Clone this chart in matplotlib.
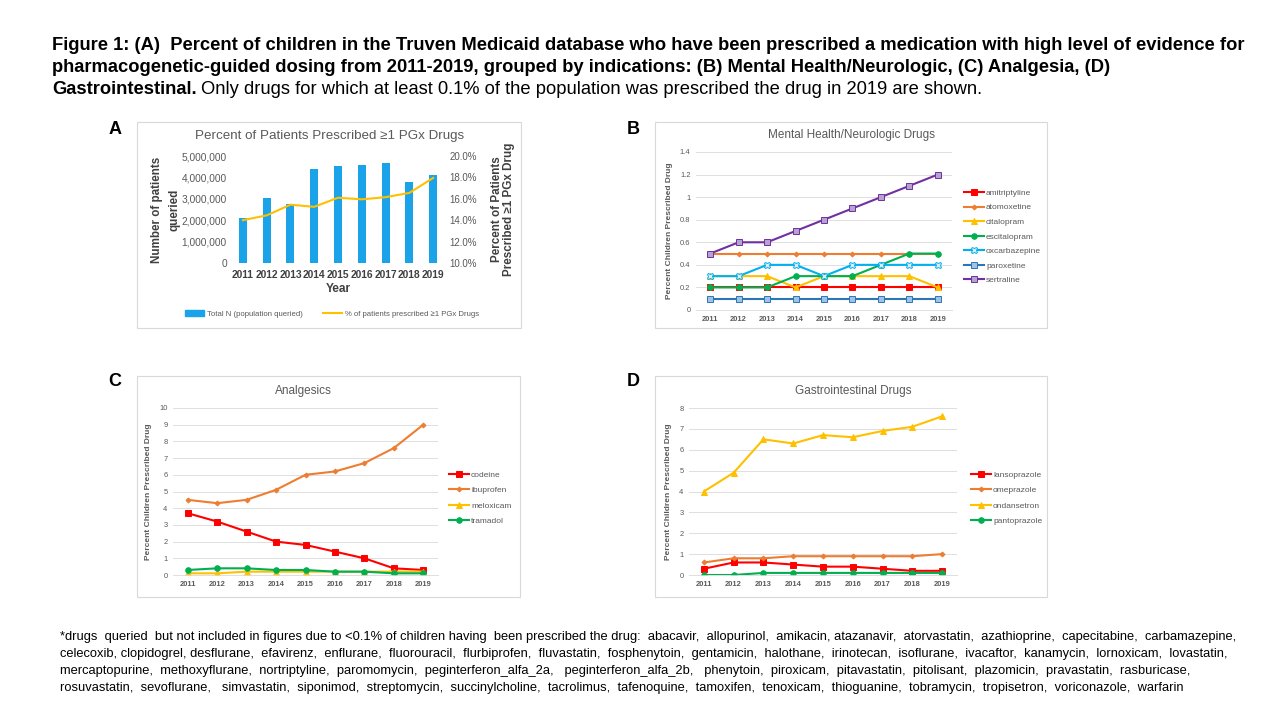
import matplotlib
matplotlib.use('Agg')
import matplotlib.pyplot as plt
from matplotlib.patches import Rectangle
from matplotlib.lines import Line2D
from matplotlib.ticker import FuncFormatter

plt.rcParams['font.family'] = ['Liberation Sans', 'DejaVu Sans']

W, H = 1280, 720
GRAY = '#595959'
GRID = '#D9D9D9'

years = ['2011', '2012', '2013', '2014', '2015', '2016', '2017', '2018', '2019']

# Panel A: population queried and percent with >=1 PGx drug
total_n = [2080000, 3050000, 2740000, 4410000, 4540000, 4590000, 4650000, 3780000, 4130000]
pct_pgx = [14.0, 14.45, 15.45, 15.25, 16.1, 15.95, 16.15, 16.55, 17.95]

# Panel B: mental health / neurologic drugs (% children)
amitriptyline = [0.2, 0.2, 0.2, 0.2, 0.2, 0.2, 0.2, 0.2, 0.2]
atomoxetine = [0.5, 0.5, 0.5, 0.5, 0.5, 0.5, 0.5, 0.5, 0.5]
citalopram = [0.3, 0.3, 0.3, 0.2, 0.3, 0.3, 0.3, 0.3, 0.2]
escitalopram = [0.2, 0.2, 0.2, 0.3, 0.3, 0.3, 0.4, 0.5, 0.5]
oxcarbazepine = [0.3, 0.3, 0.4, 0.4, 0.3, 0.4, 0.4, 0.4, 0.4]
paroxetine = [0.1, 0.1, 0.1, 0.1, 0.1, 0.1, 0.1, 0.1, 0.1]
sertraline = [0.5, 0.6, 0.6, 0.7, 0.8, 0.9, 1.0, 1.1, 1.2]

# Panel C: analgesics
codeine = [3.7, 3.2, 2.6, 2.0, 1.8, 1.4, 1.0, 0.4, 0.3]
ibuprofen = [4.5, 4.3, 4.5, 5.1, 6.0, 6.2, 6.7, 7.6, 9.0]
meloxicam = [0.1, 0.1, 0.2, 0.2, 0.2, 0.2, 0.2, 0.2, 0.2]
tramadol = [0.3, 0.4, 0.4, 0.3, 0.3, 0.2, 0.2, 0.1, 0.1]

# Panel D: gastrointestinal drugs
lansoprazole = [0.3, 0.6, 0.6, 0.5, 0.4, 0.4, 0.3, 0.2, 0.2]
omeprazole = [0.6, 0.8, 0.8, 0.9, 0.9, 0.9, 0.9, 0.9, 1.0]
ondansetron = [4.0, 4.9, 6.5, 6.3, 6.7, 6.6, 6.9, 7.1, 7.6]
pantoprazole = [0.0, 0.0, 0.1, 0.1, 0.1, 0.1, 0.1, 0.1, 0.1]

# marker styles (marker, line colour, face colour, size)
RED = ('s', '#FF0000', '#FF0000', 4)
ORANGE = ('D', '#ED7D31', '#ED7D31', 2.5)
YELLOW = ('^', '#FFC000', '#FFC000', 4)
GREEN = ('o', '#00B050', '#00B050', 4)
CYAN = ('X', '#00B0F0', '#DEEBF7', 4.5)
BLUE = ('s', '#2E75B6', '#9DC3E6', 4.5)
PURPLE = ('s', '#7030A0', '#B4A2D0', 4.5)

fig = plt.figure(figsize=(W / 100, H / 100), dpi=100)


def px_axes(x0, y0, x1, y1):
    # axes from pixel box (top-left origin)
    return fig.add_axes([x0 / W, 1 - y1 / H, (x1 - x0) / W, (y1 - y0) / H])


def panel_box(x0, y0, x1, y1):
    fig.patches.append(Rectangle((x0 / W, 1 - y1 / H), (x1 - x0) / W, (y1 - y0) / H,
                                 transform=fig.transFigure, fill=False,
                                 edgecolor='#D9D9D9', linewidth=0.8))


def line_panel(ax, series, names, styles, ymax, ystep, title, title_xy, leg_xy, leg_space):
    x = list(range(len(years)))
    for vals, name, st in zip(series, names, styles):
        ax.plot(x, vals, color=st[1], lw=1.5, marker=st[0], markersize=st[3],
                markerfacecolor=st[2], markeredgecolor=st[1], markeredgewidth=0.7, label=name)
    ax.set_xlim(-0.5, len(years) - 0.5)
    ax.set_ylim(0, ymax)
    yt = [i * ystep for i in range(int(round(ymax / ystep)) + 1)]
    ax.set_yticks(yt)
    ax.yaxis.set_major_formatter(FuncFormatter(lambda v, p: '{:g}'.format(round(v, 2))))
    ax.set_xticks(x)
    ax.set_xticklabels(years, fontweight='bold')
    ax.tick_params(length=0, labelsize=5.4, colors=GRAY, pad=4)
    ax.grid(axis='y', color=GRID, lw=0.6)
    ax.set_axisbelow(True)
    for s in ['top', 'right', 'left']:
        ax.spines[s].set_visible(False)
    ax.spines['bottom'].set_color(GRID)
    ax.spines['bottom'].set_linewidth(0.6)
    ax.set_ylabel('Percent Children Prescribed Drug', fontsize=6, fontweight='bold', color=GRAY, labelpad=5)
    fig.text(title_xy[0] / W, 1 - title_xy[1] / H, title, fontsize=8.5, color=GRAY, ha='center', va='center')
    ax.legend(loc='upper left', bbox_to_anchor=(leg_xy[0] / W, 1 - leg_xy[1] / H),
              bbox_transform=fig.transFigure, frameon=False, fontsize=6, handlelength=2.4,
              handletextpad=0.25, labelspacing=leg_space, borderaxespad=0, borderpad=0, labelcolor=GRAY)


# ---- Panel A ----
panel_box(137, 122, 521, 328)
axA = px_axes(231, 156, 445, 263)
xa = list(range(len(years)))
axA.bar(xa, total_n, width=0.34, color='#1AA3E8', zorder=2)
axA.set_xlim(-0.5, 8.5)
axA.set_ylim(0, 5000000)
axA.set_yticks(range(0, 5000001, 1000000))
axA.yaxis.set_major_formatter(FuncFormatter(lambda v, p: '{:,.0f}'.format(v)))
axA.set_xticks(xa)
axA.set_xticklabels(years, fontweight='bold')
axA.tick_params(axis='y', length=0, labelsize=7.3, colors=GRAY, pad=3)
axA.tick_params(axis='x', length=0, labelsize=7.4, colors='#404040', pad=5)
for s in axA.spines.values():
    s.set_visible(False)
axA.set_ylabel('Number of patients\nqueried', fontsize=8.4, fontweight='bold', color='#404040',
               labelpad=1, linespacing=1.6)
axA.set_xlabel('Year', fontsize=8.6, fontweight='bold', color='#404040', labelpad=2)
axA2 = axA.twinx()
axA2.plot(xa, pct_pgx, color='#FFC000', lw=1.5)
axA2.set_ylim(10, 20)
axA2.set_yticks([10, 12, 14, 16, 18, 20])
axA2.yaxis.set_major_formatter(FuncFormatter(lambda v, p: '{:.1f}%'.format(v)))
axA2.tick_params(length=0, labelsize=7.0, colors=GRAY, pad=3)
for s in axA2.spines.values():
    s.set_visible(False)
axA2.set_ylabel('Percent of Patients\nPrescribed \u22651 PGx Drug', fontsize=8.4, fontweight='bold',
                color='#404040', labelpad=10, linespacing=1.05)
fig.text(330 / W, 1 - 136 / H, 'Percent of Patients Prescribed \u22651 PGx Drugs', fontsize=9.6,
         color=GRAY, ha='center', va='center')
leg_handles = [Rectangle((0, 0), 1, 1, color='#1AA3E8'), Line2D([0], [0], color='#FFC000', lw=1.5)]
axA.legend(leg_handles, ['Total N (population queried)', '% of patients prescribed \u22651 PGx Drugs'],
           loc='center', bbox_to_anchor=(332 / W, 1 - 314 / H), bbox_transform=fig.transFigure,
           ncol=2, frameon=False, fontsize=5.6, handlelength=2.4, handleheight=0.7, columnspacing=2.6,
           handletextpad=0.4, labelcolor=GRAY)

# ---- Panel B ----
panel_box(655, 122, 1047, 328)
axB = px_axes(696, 152, 952, 310)
line_panel(axB, [amitriptyline, atomoxetine, citalopram, escitalopram, oxcarbazepine, paroxetine, sertraline],
           ['amitriptyline', 'atomoxetine', 'citalopram', 'escitalopram', 'oxcarbazepine', 'paroxetine', 'sertraline'],
           [RED, ORANGE, YELLOW, GREEN, CYAN, BLUE, PURPLE], 1.4, 0.2,
           'Mental Health/Neurologic Drugs', (852, 135), (964, 189), 0.81)

# ---- Panel C ----
panel_box(137, 376, 520, 597)
axC = px_axes(173, 408, 438, 575)
line_panel(axC, [codeine, ibuprofen, meloxicam, tramadol],
           ['codeine', 'ibuprofen', 'meloxicam', 'tramadol'],
           [RED, ORANGE, YELLOW, GREEN], 10, 1,
           'Analgesics', (303, 391), (449, 471), 0.91)

# ---- Panel D ----
panel_box(655, 376, 1047, 597)
axD = px_axes(689, 408, 957, 575)
line_panel(axD, [lansoprazole, omeprazole, ondansetron, pantoprazole],
           ['lansoprazole', 'omeprazole', 'ondansetron', 'pantoprazole'],
           [RED, ORANGE, YELLOW, GREEN], 8, 1,
           'Gastrointestinal Drugs', (853, 391), (971, 471), 0.91)

# panel letters
for letter, lx, ly in [('A', 115, 130), ('B', 633, 130), ('C', 115, 382), ('D', 633, 382)]:
    fig.text(lx / W, 1 - ly / H, letter, fontsize=13, fontweight='bold', ha='center', va='center')

# figure caption
cap1 = ('Figure 1: (A)  Percent of children in the Truven Medicaid database who have been prescribed a '
        'medication with high level of evidence for')
cap2 = ('pharmacogenetic-guided dosing from 2011-2019, grouped by indications: (B) Mental Health/Neurologic, '
        '(C) Analgesia, (D)')
CAP = 13.2
fig.text(52 / W, 1 - 45 / H, cap1, fontsize=CAP, fontweight='bold', va='center')
fig.text(52 / W, 1 - 67 / H, cap2, fontsize=CAP, fontweight='bold', va='center')
t3 = fig.text(52 / W, 1 - 90 / H, 'Gastrointestinal.', fontsize=CAP, fontweight='bold', va='center')
r = fig.canvas.get_renderer()
bb = t3.get_window_extent(renderer=r)
fig.text((bb.x1 + 4) / W, 1 - 90 / H,
         'Only drugs for which at least 0.1% of the population was prescribed the drug in 2019 are shown.',
         fontsize=CAP, va='center')

# footnote
notes = [
    '*drugs  queried  but not included in figures due to <0.1% of children having  been prescribed the drug:  '
    'abacavir,  allopurinol,  amikacin, atazanavir,  atorvastatin,  azathioprine,  capecitabine,  carbamazepine,',
    'celecoxib, clopidogrel, desflurane,  efavirenz,  enflurane,  fluorouracil,  flurbiprofen,  fluvastatin,  '
    'fosphenytoin,  gentamicin,  halothane,  irinotecan,  isoflurane,  ivacaftor,  kanamycin,  lornoxicam,  lovastatin,',
    'mercaptopurine,  methoxyflurane,  nortriptyline,  paromomycin,  peginterferon_alfa_2a,   peginterferon_alfa_2b,   '
    'phenytoin,  piroxicam,  pitavastatin,  pitolisant,  plazomicin,  pravastatin,  rasburicase,',
    'rosuvastatin,  sevoflurane,   simvastatin,  siponimod,  streptomycin,  succinylcholine,  tacrolimus,  '
    'tafenoquine,  tamoxifen,  tenoxicam,  thioguanine,  tobramycin,  tropisetron,  voriconazole,  warfarin',
]
for i, line in enumerate(notes):
    fig.text(60 / W, 1 - (637 + 17 * i) / H, line, fontsize=9.3, va='center')

fig.savefig('out.png', dpi=100, facecolor='white')
